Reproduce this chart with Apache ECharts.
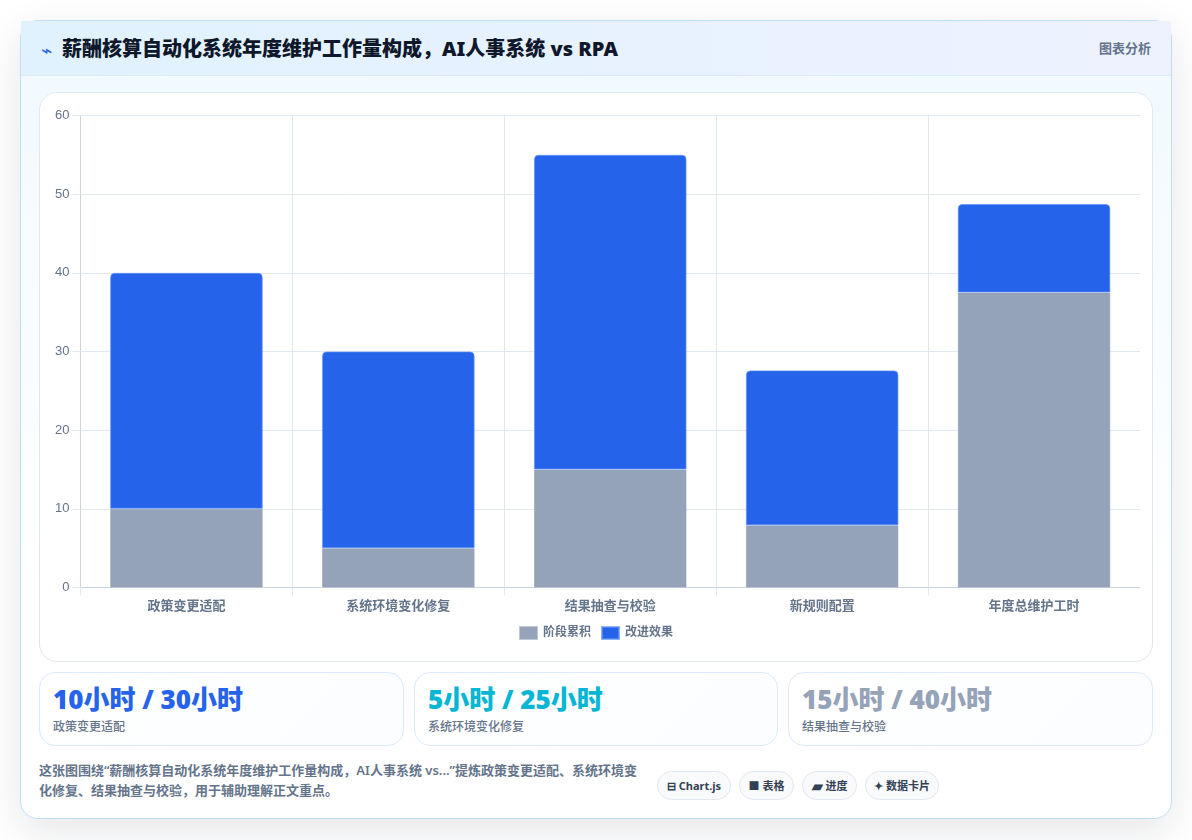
<!DOCTYPE html>
<html lang="zh-CN">
<head>
<meta charset="utf-8">
<title>薪酬核算自动化系统年度维护工作量构成</title>
<script src="https://cdn.jsdelivr.net/npm/echarts@6/dist/echarts.min.js"></script>
<style>
  * { box-sizing: border-box; margin: 0; padding: 0; }
  html, body { width: 1192px; height: 840px; overflow: hidden; background: #fff; }
  body { font-family: "Noto Sans", "Noto Sans CJK SC", sans-serif; position: relative; }
  .frame {
    position: absolute; left: 20px; top: 20px; width: 1152px; height: 799px;
    border: 1px solid #bfdff5; border-radius: 18px;
    background: linear-gradient(180deg, #f0f9ff 0%, #ffffff 72%);
    box-shadow: 0 12px 40px rgba(15, 23, 42, 0.11);
  }
  .head {
    position: absolute; left: 0; top: 0; right: 0; height: 55px;
    background: linear-gradient(90deg, #e0f2fe 0%, #eef2ff 100%);
    border-bottom: 1px solid #dbeafe;
  }
  .head .bolt { position: absolute; left: 20px; top: 17px; font-size: 19px; line-height: 24px; color: #2563eb; font-family: "DejaVu Sans"; }
  .head h1 { position: absolute; left: 41px; top: 14px; font-size: 20px; line-height: 28px; font-weight: 900; color: #0f172a; white-space: nowrap; }
  .head .tag { position: absolute; right: 20px; top: 18px; font-size: 13px; line-height: 18px; font-weight: 600; color: #64748b; }
  .panel {
    position: absolute; left: 18px; top: 71px; width: 1114px; height: 570px;
    background: #fff; border: 1px solid #e2e8f0; border-radius: 18px;
  }
  #chart { position: absolute; left: 0; top: 0; width: 1112px; height: 568px; }
  .stat {
    position: absolute; top: 651px; height: 74px; background: linear-gradient(135deg,#ffffff,#fbfdff);
    border: 1px solid #dbeafe; border-radius: 16px;
  }
  .stat b { position: absolute; left: 13px; top: 9px; font-size: 26px; line-height: 34px; font-weight: 900; white-space: nowrap; }
  .stat span { position: absolute; left: 13px; top: 45px; font-size: 12px; line-height: 17px; font-weight: 500; color: #64748b; white-space: nowrap; }
  .note { position: absolute; left: 18px; top: 739px; width: 604px; font-size: 13px; line-height: 20px; font-weight: 600; color: #64748b; }
  .pill {
    position: absolute; top: 750px; height: 29px; border: 1px solid #e2e8f0; border-radius: 15px; background: #f8fafc;
    font-size: 11px; line-height: 28px; font-weight: 700; color: #334155; text-align: center; white-space: nowrap;
  }
  .pill i { font-style: normal; }
  .pill.wide-icon i { font-size: 14px; line-height: 14px; vertical-align: -1px; }
</style>
</head>
<body>
<div class="frame">
  <div class="head">
    <span class="bolt">⌁</span>
    <h1 id="title"></h1>
    <span class="tag">图表分析</span>
  </div>
  <div class="panel"><div id="chart"></div></div>
  <div id="stats"></div>
  <p class="note" id="note"></p>
  <div id="pills"></div>
</div>
<script>
  const titleText = '薪酬核算自动化系统年度维护工作量构成，AI人事系统 vs RPA';
  const noteText = '这张图围绕“薪酬核算自动化系统年度维护工作量构成，AI人事系统 vs...”提炼政策变更适配、系统环境变化修复、结果抽查与校验，用于辅助理解正文重点。';

  const categories = ['政策变更适配', '系统环境变化修复', '结果抽查与校验', '新规则配置', '年度总维护工时'];
  const baseHours = [10, 5, 15, 7.9, 37.5];
  const gainHours = [30, 25, 40, 19.7, 11.25];
  const seriesNames = ['阶段累积', '改进效果'];
  const seriesColors = ['#94a3b8', '#2563eb'];
  const yTicks = { min: 0, max: 60, interval: 10 };

  const statValues = ['10小时 / 30小时', '5小时 / 25小时', '15小时 / 40小时'];
  const statLabels = ['政策变更适配', '系统环境变化修复', '结果抽查与校验'];
  const statColors = ['#2563eb', '#06b6d4', '#94a3b8'];
  const statLefts = [18, 393, 767];
  const statWidths = [365, 364, 365];

  const pillIcons = ['⊟', '■', '▰', '✦'];
  const pillTexts = ['Chart.js', '表格', '进度', '数据卡片'];
  const pillLefts = [636, 718, 781, 844];
  const pillWidths = [74, 55, 55, 74];

  document.getElementById('title').textContent = titleText;
  document.getElementById('note').textContent = noteText;

  document.getElementById('stats').innerHTML = statValues.map((v, i) =>
    `<div class="stat" style="left:${statLefts[i]}px;width:${statWidths[i]}px">
       <b style="color:${statColors[i]}">${v}</b><span>${statLabels[i]}</span>
     </div>`).join('');

  document.getElementById('pills').innerHTML = pillTexts.map((t, i) =>
    `<div class="pill${i === 2 ? ' wide-icon' : ''}" style="left:${pillLefts[i]}px;width:${pillWidths[i]}px"><i>${pillIcons[i]}</i> ${t}</div>`).join('');

  const chart = echarts.init(document.getElementById('chart'), null, { renderer: 'canvas' });
  const axisFont = { fontFamily: '"Liberation Sans", "Noto Sans CJK SC", sans-serif' };

  // Band-edge positions for the x ticks: one more slot than there are categories.
  const bandEdges = categories.concat('');

  chart.setOption({
    animation: false,
    legend: {
      top: 528, left: 'center', itemWidth: 17, itemHeight: 12, itemGap: 10,
      icon: 'rect',
      textStyle: { ...axisFont, fontSize: 12, fontWeight: 600, color: '#64748b', padding: [0, 0, 0, 1] },
      data: seriesNames
    },
    grid: { left: 40.5, right: 12, top: 22.5, bottom: 73.5, containLabel: false },
    xAxis: [
      {
        type: 'category',
        data: categories,
        axisLine: { lineStyle: { color: '#cbd5e1', width: 1 } },
        axisTick: { show: false },
        axisLabel: { ...axisFont, fontSize: 13, fontWeight: 600, color: '#64748b', margin: 12 },
        splitLine: { show: true, showMaxLine: false, lineStyle: { color: '#e2e8f0', width: 1 } }
      },
      {
        // Carries only the tick marks, leaving out the one at the far right end.
        type: 'category',
        position: 'bottom',
        boundaryGap: false,
        data: bandEdges,
        axisLine: { show: false },
        axisLabel: { show: false },
        splitLine: { show: false },
        axisTick: {
          show: true, length: 8,
          interval: (index) => index < categories.length,
          lineStyle: { color: '#e2e8f0' }
        }
      }
    ],
    yAxis: {
      type: 'value',
      min: yTicks.min, max: yTicks.max, interval: yTicks.interval,
      axisLine: { show: true, lineStyle: { color: '#cbd5e1', width: 1 } },
      axisTick: { show: true, length: 8, lineStyle: { color: '#e2e8f0' } },
      axisLabel: { ...axisFont, fontSize: 13, color: '#64748b', margin: 11 },
      splitLine: { lineStyle: { color: '#e2e8f0', width: 1 } }
    },
    series: [
      {
        name: seriesNames[0], type: 'bar', stack: 'hours', barWidth: '72%',
        data: baseHours,
        itemStyle: { color: seriesColors[0], borderColor: 'rgba(148,163,184,0.6)', borderWidth: 1 }
      },
      {
        name: seriesNames[1], type: 'bar', stack: 'hours', barWidth: '72%',
        data: gainHours,
        itemStyle: { color: seriesColors[1], borderRadius: [4, 4, 0, 0], borderColor: 'rgba(96,145,245,0.7)', borderWidth: 1 }
      }
    ]
  });
</script>
</body>
</html>
